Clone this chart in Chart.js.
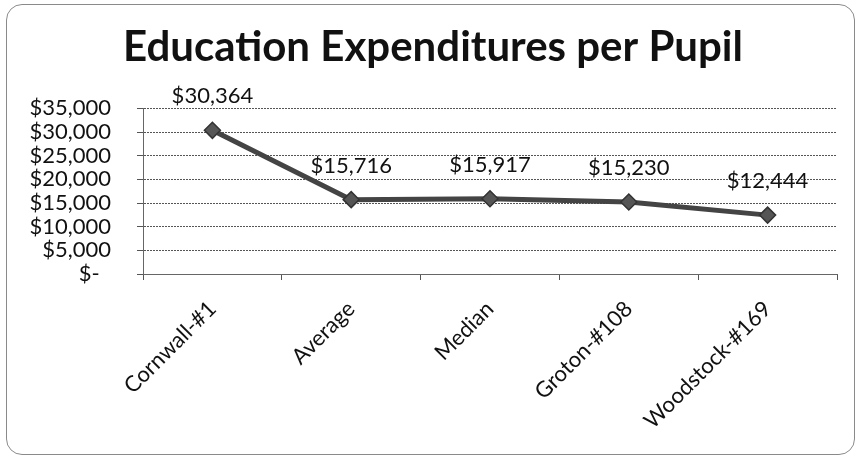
<!DOCTYPE html>
<html>
<head>
<meta charset="utf-8">
<script src="https://cdn.jsdelivr.net/npm/chart.js@4.4.1/dist/chart.umd.min.js"></script>
<style>
    html, body { margin: 0; padding: 0; background: #fff; }
    #wrap { position: relative; width: 863px; height: 460px; }
    #frame {
        position: absolute; left: 6px; top: 4px; width: 849px; height: 451px;
        border: 1px solid #8a8a8a; border-radius: 16px; box-sizing: border-box;
        pointer-events: none;
    }
    canvas { position: absolute; left: 0; top: 0; }
</style>
</head>
<body>
<div id="wrap">
    <canvas id="chart" width="863" height="460"></canvas>
    <div id="frame"></div>
</div>
<script>
// ===== DATI =====
const categories = ['Cornwall-#1', 'Average', 'Median', 'Groton-#108', 'Woodstock-#169'];
const spesaPerAlunno = [30364, 15716, 15917, 15230, 12444];
const etichetteValori = ['$30,364', '$15,716', '$15,917', '$15,230', '$12,444'];
const yTickLabels = ['$-  ', '$5,000', '$10,000', '$15,000', '$20,000', '$25,000', '$30,000', '$35,000'];

const FONT = 'Lato, Calibri, Carlito, sans-serif';

// Etichette sopra i punti
const valueLabels = {
    id: 'valueLabels',
    afterDatasetsDraw(chart) {
        const ctx = chart.ctx;
        const meta = chart.getDatasetMeta(0);
        ctx.save();
        ctx.font = '22px ' + FONT;
        ctx.fillStyle = '#111';
        ctx.textAlign = 'center';
        ctx.textBaseline = 'middle';
        meta.data.forEach((pt, i) => {
            ctx.fillText(etichetteValori[i], pt.x, pt.y - 34);
        });
        ctx.restore();
    }
};

new Chart(document.getElementById('chart'), {
    type: 'line',
    data: {
        labels: categories,
        datasets: [{
            label: 'Spesa per alunno',
            data: spesaPerAlunno,
            borderColor: '#444',
            borderWidth: 5,
            tension: 0,
            pointStyle: 'rectRot',
            pointRadius: 8,
            pointBackgroundColor: '#555',
            pointBorderColor: '#333',
            pointBorderWidth: 1.5
        }]
    },
    options: {
        responsive: false,
        animation: false,
        layout: { padding: { left: 29, right: 26, top: 0, bottom: 0 } },
        plugins: {
            legend: { display: false },
            tooltip: { enabled: false },
            title: {
                display: true,
                text: 'Education Expenditures per Pupil',
                color: '#111',
                font: { family: FONT, size: 42, weight: 'bold', lineHeight: 1.2 },
                padding: { top: 22, bottom: 36 }
            }
        },
        scales: {
            x: {
                offset: true,
                grid: {
                    offset: true,
                    drawOnChartArea: false,
                    drawTicks: true,
                    tickLength: 6,
                    color: '#555'
                },
                border: { color: '#666', width: 1, dash: [2, 1] },
                ticks: {
                    color: '#111',
                    font: { family: FONT, size: 22 },
                    maxRotation: 45,
                    minRotation: 45,
                    padding: 16,
                    autoSkip: false
                },
                afterFit(scale) { scale.height = 186; }
            },
            y: {
                min: 0,
                max: 35000,
                ticks: {
                    stepSize: 5000,
                    autoSkip: false,
                    color: '#111',
                    font: { family: FONT, size: 22 },
                    padding: 26,
                    callback: (value, index) => yTickLabels[index]
                },
                grid: {
                    color: '#555',
                    tickLength: 6
                },
                border: { color: '#666', width: 1, dash: [2, 1] },
                afterFit(scale) { scale.width = 114; }
            }
        }
    },
    plugins: [valueLabels]
});
</script>
</body>
</html>
